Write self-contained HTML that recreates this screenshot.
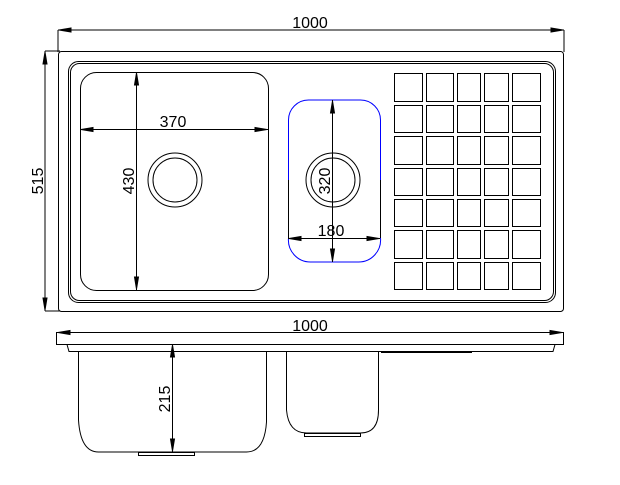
<!DOCTYPE html>
<html><head><style>body{margin:0;background:#fff}svg{display:block}</style></head><body>
<svg width="620" height="485" viewBox="0 0 620 485" xmlns="http://www.w3.org/2000/svg" font-family="Liberation Sans, sans-serif" fill="none" stroke="#000" stroke-width="1">
<line x1="58" y1="30" x2="564" y2="30"/>
<line x1="58" y1="30" x2="58" y2="52"/><line x1="564" y1="30" x2="564" y2="52"/>
<path d="M59 30 l12 -2 v4z M563 30 l-12 -2 v4z" fill="#000"/>
<text x="310" y="28" font-size="16" fill="#000" stroke="none" text-anchor="middle">1000</text>
<line x1="45" y1="51" x2="45" y2="311"/>
<line x1="45" y1="51" x2="60" y2="51"/><line x1="45" y1="311" x2="60" y2="311"/>
<path d="M45 52 l-2 12 h4z M45 310 l-2 -12 h4z" fill="#000"/>
<text x="0" y="0" font-size="16" fill="#000" stroke="none" text-anchor="middle" transform="translate(43,181) rotate(-90)">515</text>
<rect x="58.5" y="51.5" width="505" height="260" rx="3"/>
<rect x="68.5" y="61.5" width="487" height="241" rx="10"/>
<rect x="70.5" y="63.5" width="483" height="237" rx="9"/>
<rect x="80.5" y="72.5" width="188" height="218" rx="16"/>
<circle cx="175" cy="180" r="27"/><circle cx="175" cy="180" r="22"/>
<line x1="136.5" y1="72" x2="136.5" y2="290"/>
<path d="M136.5 73 l-2 12 h4z M136.5 289 l-2 -12 h4z" fill="#000"/>
<text x="0" y="0" font-size="16" fill="#000" stroke="none" text-anchor="middle" transform="translate(134,181) rotate(-90)">430</text>
<line x1="80" y1="129.5" x2="268" y2="129.5"/>
<path d="M81 129.5 l12 -2 v4z M267 129.5 l-12 -2 v4z" fill="#000"/>
<text x="173" y="127" font-size="16" fill="#000" stroke="none" text-anchor="middle">370</text>
<path d="M288.5 181 V120 a20 20 0 0 1 20 -20 h52 a20 20 0 0 1 20 20 V181" stroke="#00f"/>
<path d="M288.5 180 V238.5 M380.5 180 V238.5" stroke="#000"/>
<path d="M288.5 238 a22 22 0 0 0 22 24 h48 a22 22 0 0 0 22 -24" stroke="#00f"/>
<circle cx="333" cy="180" r="27"/><circle cx="333" cy="180" r="22"/>
<line x1="332.5" y1="100" x2="332.5" y2="262"/>
<path d="M332.5 101 l-2 12 h4z M332.5 261 l-2 -12 h4z" fill="#000"/>
<text x="0" y="0" font-size="16" fill="#000" stroke="none" text-anchor="middle" transform="translate(330,181) rotate(-90)">320</text>
<line x1="288" y1="238.5" x2="380" y2="238.5"/>
<path d="M289 238.5 l12 -2 v4z M379 238.5 l-12 -2 v4z" fill="#000"/>
<text x="331" y="236" font-size="16" fill="#000" stroke="none" text-anchor="middle">180</text>
<g>
<rect x="394.5" y="73.5" width="28" height="28"/><rect x="426.5" y="73.5" width="27" height="28"/><rect x="457.5" y="73.5" width="23" height="28"/><rect x="484.5" y="73.5" width="24" height="28"/><rect x="512.5" y="73.5" width="28" height="28"/>
<rect x="394.5" y="105.5" width="28" height="27"/><rect x="426.5" y="105.5" width="27" height="27"/><rect x="457.5" y="105.5" width="23" height="27"/><rect x="484.5" y="105.5" width="24" height="27"/><rect x="512.5" y="105.5" width="28" height="27"/>
<rect x="394.5" y="136.5" width="28" height="28"/><rect x="426.5" y="136.5" width="27" height="28"/><rect x="457.5" y="136.5" width="23" height="28"/><rect x="484.5" y="136.5" width="24" height="28"/><rect x="512.5" y="136.5" width="28" height="28"/>
<rect x="394.5" y="168.5" width="28" height="27"/><rect x="426.5" y="168.5" width="27" height="27"/><rect x="457.5" y="168.5" width="23" height="27"/><rect x="484.5" y="168.5" width="24" height="27"/><rect x="512.5" y="168.5" width="28" height="27"/>
<rect x="394.5" y="199.5" width="28" height="27"/><rect x="426.5" y="199.5" width="27" height="27"/><rect x="457.5" y="199.5" width="23" height="27"/><rect x="484.5" y="199.5" width="24" height="27"/><rect x="512.5" y="199.5" width="28" height="27"/>
<rect x="394.5" y="230.5" width="28" height="28"/><rect x="426.5" y="230.5" width="27" height="28"/><rect x="457.5" y="230.5" width="23" height="28"/><rect x="484.5" y="230.5" width="24" height="28"/><rect x="512.5" y="230.5" width="28" height="28"/>
<rect x="394.5" y="262.5" width="28" height="27"/><rect x="426.5" y="262.5" width="27" height="27"/><rect x="457.5" y="262.5" width="23" height="27"/><rect x="484.5" y="262.5" width="24" height="27"/><rect x="512.5" y="262.5" width="28" height="27"/>
</g>
<rect x="56.5" y="332.5" width="507" height="12"/>
<path d="M58 332.5 l12 -2 v4z M562 332.5 l-12 -2 v4z" fill="#000"/>
<text x="310" y="331" font-size="16" fill="#000" stroke="none" text-anchor="middle">1000</text>
<path d="M67 344.5 l2 7 h484 l2 -7"/>
<path d="M78.5 351.5 V420 q2 32 20 32 h148 q18 0 20 -30 V351.5"/>
<rect x="138.5" y="452.5" width="56" height="3"/>
<path d="M286.5 351.5 V410 q2 23 20 23 h54 q18 0 18 -23 V351.5"/>
<rect x="304.5" y="433.5" width="56" height="3"/>
<line x1="381" y1="352" x2="472" y2="352" stroke-width="2"/>
<line x1="172.5" y1="344" x2="172.5" y2="452"/>
<path d="M172.5 345 l-2 12 h4z M172.5 451 l-2 -12 h4z" fill="#000"/>
<text x="0" y="0" font-size="16" fill="#000" stroke="none" text-anchor="middle" transform="translate(170,399) rotate(-90)">215</text>
</svg>
</body></html>
